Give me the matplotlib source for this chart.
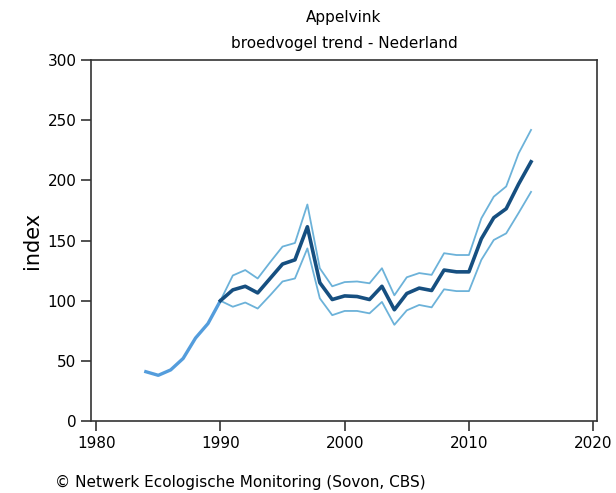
import matplotlib
matplotlib.use('Agg')
import matplotlib.pyplot as plt

# Index vóór 1990 (alleen één lijn)
jaren_vroeg = [1984, 1985, 1986, 1987, 1988, 1989, 1990]
index_vroeg = [41, 38, 42.5, 52, 69, 81, 100]

# Trend vanaf 1990 met betrouwbaarheidsgrenzen
jaren = list(range(1990, 2016))
index = [100, 109, 112, 106.5, 118.5, 130.5, 134, 161.5, 115, 101, 104, 103.5, 101,
         112, 92.5, 106, 110.5, 108.5, 125.5, 124, 124, 151.5, 169, 176.5, 197, 215.5]
boven = [100, 121, 125.5, 118.5, 132, 145, 148, 180, 127, 112, 115.5, 116, 114.5,
         127, 104.5, 119.5, 123, 121.5, 139.5, 138, 138, 168.5, 186.5, 195, 222.5, 242]
onder = [100, 95, 98.5, 93.5, 104.5, 116, 118.5, 143.5, 102, 88, 91.5, 91.5, 89.5,
         99, 80, 92, 96.5, 94.5, 109.5, 108, 108, 134, 150.5, 156, 173, 190.5]

fig = plt.figure(figsize=(6.16, 4.93), dpi=100)
ax = fig.add_axes([0.148, 0.146, 0.821, 0.732])

ax.plot(jaren_vroeg, index_vroeg, color='#4192d9', linewidth=2.4, alpha=0.9)
ax.plot(jaren, boven, color='#6cb2d9', linewidth=1.3)
ax.plot(jaren, onder, color='#6cb2d9', linewidth=1.3)
ax.plot(jaren, index, color='#164f80', linewidth=2.6)

ax.set_xlim(1979.6, 2020.3)
ax.set_ylim(0, 300)
ax.set_xticks([1980, 1990, 2000, 2010, 2020])
ax.set_yticks([0, 50, 100, 150, 200, 250, 300])
ax.tick_params(axis='both', labelsize=11, length=7, width=1.2, color='#333333')
for s in ax.spines.values():
    s.set_linewidth(1.2)
    s.set_color('#333333')

ax.set_ylabel('index', fontsize=15, labelpad=4)
ax.set_title('Appelvink\nbroedvogel trend - Nederland', fontsize=11, pad=9, linespacing=1.85)

fig.text(0.09, 0.012, '\u00a9 Netwerk Ecologische Monitoring (Sovon, CBS)', fontsize=11)

plt.savefig('out.png', dpi=100)
